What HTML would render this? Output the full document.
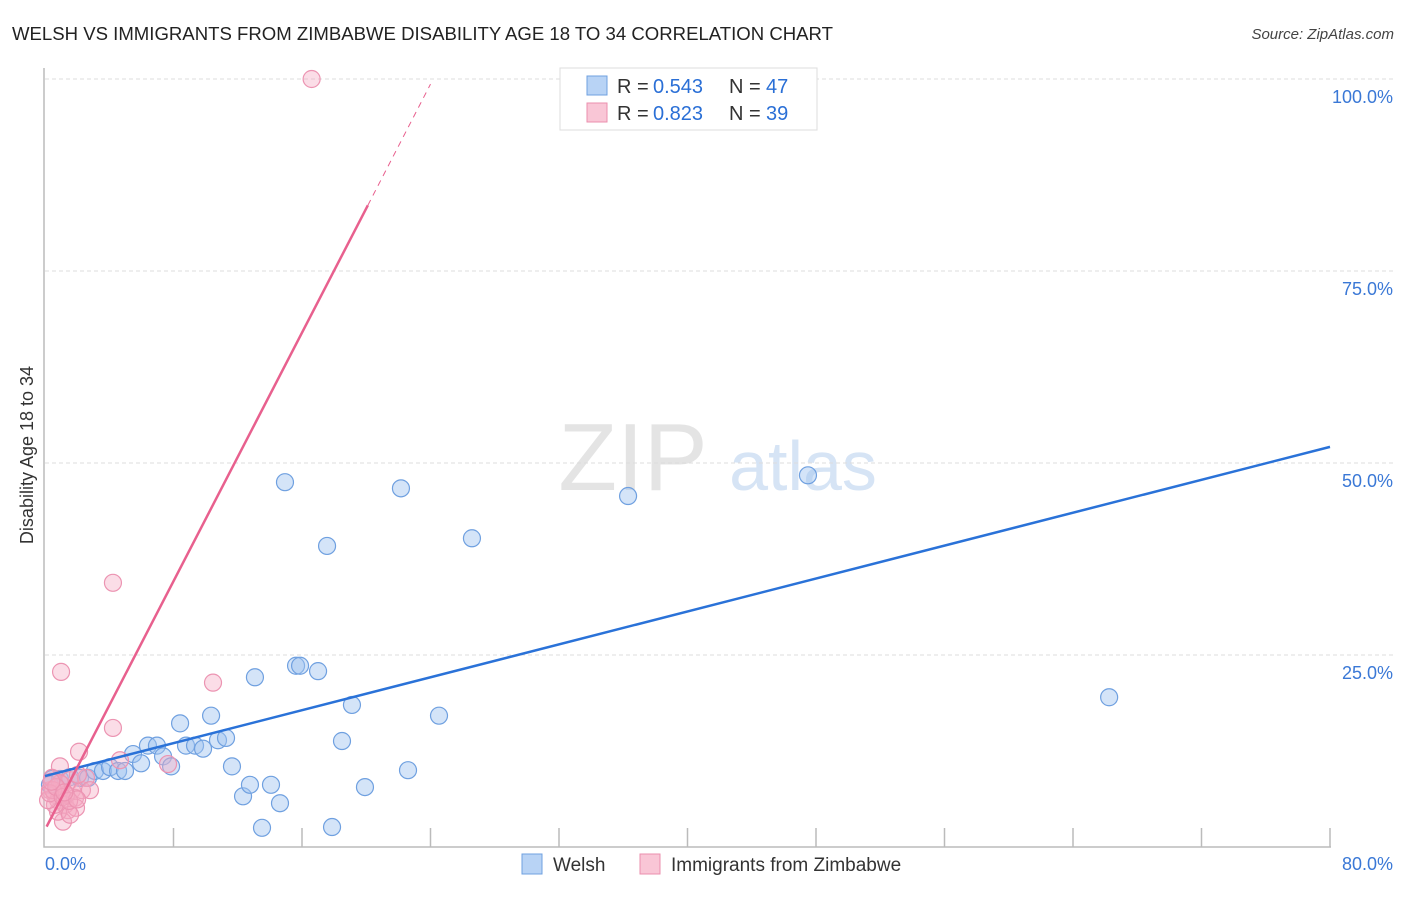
<!DOCTYPE html>
<html><head><meta charset="utf-8"><style>
body{margin:0;background:#fff;font-family:"Liberation Sans",sans-serif;}
svg text{font-family:"Liberation Sans",sans-serif;}
</style></head><body>
<svg id="chart" width="1406" height="892" viewBox="0 0 1406 892">
<text x="12" y="40" font-size="18" fill="#222" textLength="821" lengthAdjust="spacingAndGlyphs">WELSH VS IMMIGRANTS FROM ZIMBABWE DISABILITY AGE 18 TO 34 CORRELATION CHART</text>
<text x="1394" y="39" font-size="15" fill="#444" font-style="italic" text-anchor="end">Source: ZipAtlas.com</text>
<g>
<text x="633" y="490" font-size="96" fill="#e4e4e4" font-family="Liberation Serif" text-anchor="middle">ZIP</text>
<text x="803" y="490" font-size="70" fill="#d6e4f5" text-anchor="middle">atlas</text>
</g>
<g id="grid"></g>
<g id="axes"></g>
<g id="marks"></g>
<text transform="translate(33,455) rotate(-90)" font-size="18" fill="#333" text-anchor="middle">Disability Age 18 to 34</text>
<g>
<rect x="560" y="68" width="257" height="62" fill="#fff" stroke="#ddd"/>
<rect x="587" y="76" width="20" height="19" fill="#b8d3f5" stroke="#6fa0e0"/>
<rect x="587" y="103" width="20" height="19" fill="#f9c6d6" stroke="#eb8fae"/>
<text y="93" font-size="20" fill="#333"><tspan x="617">R =</tspan><tspan x="653" fill="#2a6fd6">0.543</tspan><tspan x="729">N =</tspan><tspan x="766" fill="#2a6fd6">47</tspan></text>
<text y="120" font-size="20" fill="#333"><tspan x="617">R =</tspan><tspan x="653" fill="#2a6fd6">0.823</tspan><tspan x="729">N =</tspan><tspan x="766" fill="#2a6fd6">39</tspan></text>
</g>
<g>
<rect x="522" y="854" width="20" height="20" fill="#b8d3f5" stroke="#6fa0e0"/>
<text x="553" y="871" font-size="19" fill="#333">Welsh</text>
<rect x="640" y="854" width="20" height="20" fill="#f9c6d6" stroke="#eb8fae"/>
<text x="671" y="871" font-size="19" fill="#333">Immigrants from Zimbabwe</text>
</g>
</svg>
<script>
const welshX=[0.44,0.93,1.56,2.18,2.68,3.11,3.61,4.05,4.55,4.98,5.48,5.98,6.41,6.97,7.35,7.85,8.41,8.78,9.34,9.84,10.34,10.77,11.27,11.64,12.33,12.76,13.07,13.51,14.07,14.63,14.94,15.63,15.88,17.0,17.56,17.87,18.49,19.11,19.92,22.16,22.6,24.53,26.58,36.3,47.5,66.25,0.31];
const welshY=[8.85,8.85,9.1,9.0,9.0,9.9,9.9,10.4,9.9,9.9,12.1,10.9,13.2,13.2,11.8,10.5,16.1,13.2,13.2,12.8,17.1,13.9,14.2,10.5,6.6,8.1,22.1,2.5,8.1,5.7,47.5,23.6,23.6,22.9,39.2,2.6,13.8,18.5,7.8,46.7,10.0,17.1,40.2,45.7,48.4,19.5,8.1];
const zimX=[16.6,4.23,1.0,10.46,4.23,2.12,4.67,7.66,0.93,0.31,0.62,0.81,1.06,1.25,1.56,1.68,1.87,0.44,0.93,1.43,1.12,2.3,1.93,0.81,2.55,0.62,1.31,0.19,0.5,1.56,2.05,2.8,0.3,0.7,1.1,1.5,0.4,2.0,1.2];
const zimY=[100,34.4,22.8,21.4,15.5,12.4,11.3,10.8,10.5,7.4,6.8,6.1,8.1,5.5,8.7,7.4,6.4,9.0,8.3,4.8,3.3,7.4,5.1,4.6,9.0,5.5,6.8,6.1,7.4,4.2,9.4,7.4,7.0,7.8,6.5,6.0,8.5,6.2,7.1];
const welshTrend=[9.24,52.1];
const zimTrend=[2.25,4.045];
const yTicks=[25,50,75,100];
const yTickLabels=["25.0%","50.0%","75.0%","100.0%"];
const xTicks=[0,8,16,24,32,40,48,56,64,72,80];

const X0=45,X1=1330,Y0=847,Y1=79;
const sx=v=>X0+(v/80)*(X1-X0);
const sy=v=>Y0-(v/100)*(Y0-Y1);
const NS="http://www.w3.org/2000/svg";
function mk(tag,attrs,parent){const e=document.createElementNS(NS,tag);for(const k in attrs)e.setAttribute(k,attrs[k]);parent.appendChild(e);return e;}
const grid=document.getElementById('grid'),axes=document.getElementById('axes'),marks=document.getElementById('marks');
yTicks.forEach((t,i)=>{
  const l=mk('line',{x1:X0,x2:1393,y1:sy(t),y2:sy(t),stroke:'#ddd','stroke-dasharray':'4,3'},grid);
  
  
  const tx=mk('text',{x:1393,y:sy(t)+24,'font-size':18,fill:'#3a78d6','text-anchor':'end'},axes);
  tx.textContent=yTickLabels[i];
  
  
});
const ax=mk('path',{d:`M${X0-1},68 V${Y0} H${X1+1}`,stroke:'#bbb',fill:'none','stroke-width':1.5},axes);


xTicks.forEach(t=>{
  if(t===0)return;
  const l=mk('line',{x1:sx(t),x2:sx(t),y1:828,y2:Y0,stroke:'#bbb','stroke-width':1.5},axes);
  
  
});
const xl0=mk('text',{x:45,y:870,'font-size':18,fill:'#3a78d6'},axes);xl0.textContent='0.0%';


const xl1=mk('text',{x:1393,y:870,'font-size':18,fill:'#3a78d6','text-anchor':'end'},axes);xl1.textContent='80.0%';



welshX.forEach((x,i)=>{
  const c=mk('circle',{cx:sx(x),cy:sy(welshY[i]),r:8.5,fill:'rgba(160,196,240,0.45)',stroke:'#6fa0e0','stroke-width':1.2},marks);
  
  
});
zimX.forEach((x,i)=>{
  const c=mk('circle',{cx:sx(x),cy:sy(zimY[i]),r:8.5,fill:'rgba(245,170,195,0.4)',stroke:'#ec94b2','stroke-width':1.2},marks);
  
  
});
const wl=mk('line',{x1:sx(0),y1:sy(welshTrend[0]),x2:sx(80),y2:sy(welshTrend[1]),stroke:'#2a72d8','stroke-width':2.5},marks);


const zy=x=>zimTrend[0]+zimTrend[1]*x;
const zl=mk('line',{x1:sx(0.1),y1:sy(zy(0.1)),x2:sx(20.1),y2:sy(zy(20.1)),stroke:'#e8608e','stroke-width':2.5},marks);


const zd=mk('line',{x1:sx(20.1),y1:sy(zy(20.1)),x2:sx(24),y2:sy(zy(24)),stroke:'#e8608e','stroke-width':1,'stroke-dasharray':'6,5'},marks);


</script>
</body></html>
